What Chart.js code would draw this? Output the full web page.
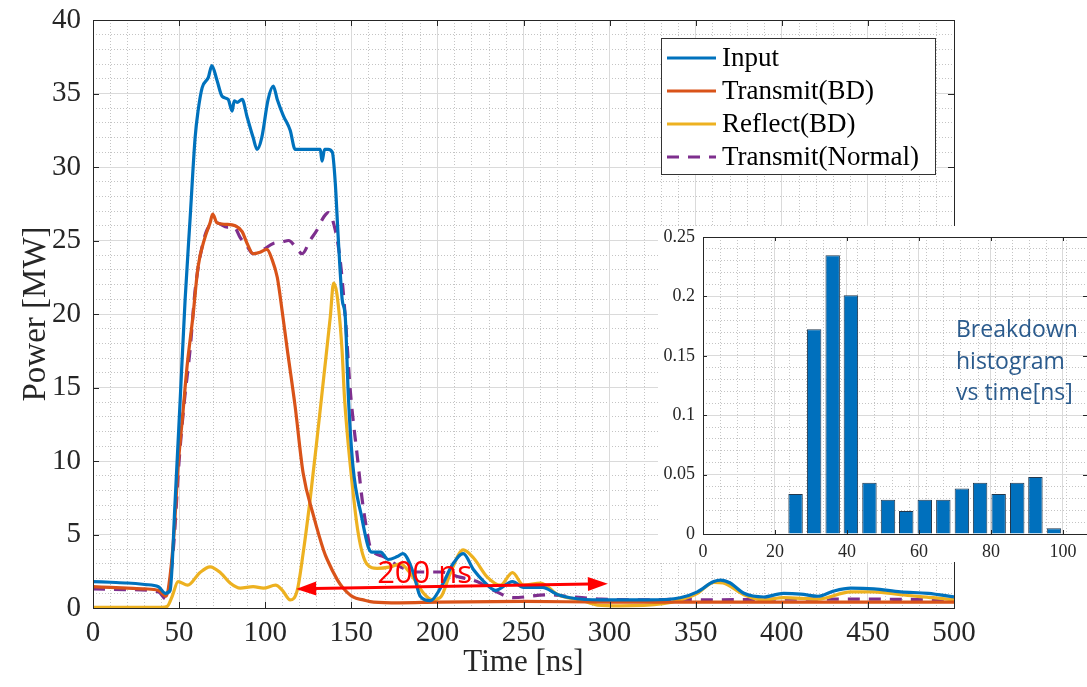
<!DOCTYPE html>
<html>
<head>
<meta charset="utf-8">
<script src="https://cdn.jsdelivr.net/npm/chart.js@4"></script>
<style>
  html, body { margin: 0; padding: 0; background: #fff; }
  #wrap { position: relative; width: 1087px; height: 687px; overflow: hidden; }
  #main { position: absolute; left: 0; top: 0; }
  #insetBox { position: absolute; left: 658px; top: 226px; width: 429px; height: 336px; background: #fff; }
</style>
</head>
<body>
<div id="wrap">
  <canvas id="main" width="1087" height="687"></canvas>
  <div id="insetBox"><canvas id="inset" width="429" height="336"></canvas></div>
</div>
<script>
// Pulse power traces [ns, MW]
const inputTime = [0, 10, 20, 30, 38, 42, 44.8, 47.7, 50.6, 53.5, 56.4, 59.3, 61, 63.4, 67, 69, 72, 75, 78.5, 80.8, 82, 83.7, 86.6, 89.5, 93, 95.3, 98, 101.7, 104.7, 107, 110.5, 114.5, 117.4, 125, 132, 133, 134.5, 136.6, 139, 140.7, 142.4, 144.7, 146.5, 148.3, 151, 156, 160, 162, 167, 171.5, 176.7, 180, 186, 190, 196, 202, 209, 215, 221, 227, 233.7, 243.6, 250, 261, 270, 277, 295, 322, 341, 351, 360.5, 364.5, 370, 378, 389.5, 401, 411, 421, 430, 440, 453.5, 469, 485, 500];
const inputPower = [1.8, 1.75, 1.7, 1.6, 1.45, 1.0, 1.2, 7.3, 14.1, 21, 26.5, 32, 33.8, 35.4, 36.1, 36.9, 35.9, 34.8, 34.6, 33.8, 34.5, 34.4, 34.6, 33.4, 32, 31.2, 32, 34.6, 35.5, 34.6, 33.5, 32.5, 31.2, 31.2, 31.2, 30.4, 31.2, 31.2, 31, 28.9, 25.2, 21, 19.8, 14.4, 9.6, 6.2, 4.1, 3.8, 3.8, 3.3, 3.5, 3.7, 2.4, 0.8, 0.5, 1.4, 3.0, 3.7, 2.6, 1.8, 1.2, 1.8, 1.4, 1.4, 0.9, 0.7, 0.55, 0.55, 0.7, 1.1, 1.8, 1.9, 1.7, 1.0, 0.75, 1.0, 0.95, 0.8, 1.15, 1.35, 1.3, 1.1, 1.0, 0.75];

const transmitTime = [0, 10, 20, 30, 38, 42.5, 44, 47, 49.4, 52, 54.6, 58, 61, 65, 68, 69.5, 72, 77, 82.6, 86.6, 89.5, 93, 97, 101, 104, 107, 108.7, 112.8, 117.4, 122, 128, 134, 136, 142, 145, 151, 157, 163, 178, 200, 250, 300, 350, 400, 450, 500];
const transmitPower = [1.45, 1.4, 1.35, 1.3, 1.2, 0.8, 1.5, 5, 9.6, 13, 16.4, 19.8, 23.2, 25.2, 26.2, 26.8, 26.2, 26.1, 26, 25.6, 24.8, 24.1, 24.2, 24.4, 23.7, 22.5, 21.2, 17.6, 13.7, 9.2, 6.3, 3.9, 3.3, 1.9, 1.4, 0.75, 0.55, 0.4, 0.35, 0.4, 0.45, 0.4, 0.4, 0.4, 0.4, 0.4];

const reflectTime = [0, 20, 40, 43, 46, 49.4, 55, 62, 68, 74, 79.6, 85.5, 93, 99, 106, 110, 114.5, 118.6, 122, 126, 130, 134, 137.8, 139.7, 141.6, 144.6, 146, 149.5, 154, 159, 165, 172.7, 178.5, 184, 192, 197, 202, 207.6, 215, 221, 229, 236.6, 243.6, 250, 260, 270, 283, 293, 306, 331, 341, 351, 360.5, 366, 378, 389.5, 401, 421, 440, 453.5, 469, 488, 500];
const reflectPower = [0.05, 0.05, 0.05, 0.1, 0.8, 1.8, 1.55, 2.4, 2.8, 2.4, 1.7, 1.35, 1.45, 1.35, 1.55, 1.2, 0.55, 1.2, 3.7, 7.3, 11.4, 15.7, 19.8, 22.1, 21.4, 17.6, 14.4, 9.6, 5.1, 3.0, 2.7, 2.8, 3.0, 2.4, 1.0, 0.55, 0.75, 2.4, 3.95, 3.4, 2.1, 1.55, 2.4, 1.55, 1.7, 0.9, 0.55, 0.2, 0.15, 0.3, 0.55, 1.0, 1.75, 1.7, 0.9, 0.55, 0.7, 0.6, 1.1, 1.1, 0.9, 0.7, 0.55];

const normalTime = [0, 20, 38, 42.5, 44, 47, 50, 53, 56.4, 59.3, 63.4, 67, 72, 78, 82, 85.5, 89.5, 93, 99, 104.7, 110, 113.6, 117.4, 121.5, 126, 130, 134, 136.6, 140.7, 143.6, 146.5, 149.4, 153.5, 156.4, 159.3, 161, 168.6, 178.5, 188, 202, 213, 223, 232.6, 244, 264, 279, 295, 322, 341, 357, 400, 450, 500];
const normalPower = [1.3, 1.25, 1.1, 0.6, 1.2, 4.5, 10, 14, 17.6, 21.6, 24.6, 25.9, 26.2, 25.9, 25.9, 25.2, 24.6, 24.1, 24.4, 24.8, 24.9, 25.0, 24.6, 24.1, 25, 25.7, 26.6, 26.9, 25.7, 23.6, 19.8, 14.8, 10.3, 7.3, 5.1, 4.15, 3.5, 2.8, 2.45, 2.45, 2.1, 1.8, 1.2, 0.7, 0.9, 0.75, 0.6, 0.55, 0.6, 0.55, 0.6, 0.6, 0.55];

const seriesNames = ['Input', 'Transmit(BD)', 'Reflect(BD)', 'Transmit(Normal)'];
const seriesColors = ['#0072BD', '#D95319', '#EDB120', '#7E2F8E'];

// arrow marking the breakdown window, in axis units
const spanStart = [118, 1.3];
const spanEnd = [299, 1.65];
const spanLabel = '200 ns';
const spanLabelAt = [165, 1.7];

// breakdown histogram: bin centres [ns] and probability
const histCenters = [24.4, 29.8, 35.2, 40.5, 45.9, 51.3, 56.6, 62.0, 67.4, 72.8, 78.1, 83.5, 88.9, 94.2, 99.6];
const histProb = [0.0336, 0.1724, 0.2346, 0.201, 0.0432, 0.0289, 0.0193, 0.0289, 0.0289, 0.0384, 0.0432, 0.0336, 0.0432, 0.0479, 0.0048];
const histNote = ['Breakdown', 'histogram', 'vs time[ns]'];

const SERIF = '"Liberation Serif", "Times New Roman", serif';
const AXIS = '#262626';
const MAJOR = '#dadada';
const MINOR = '#c4c4c4';

function pts(xs, ys) { return xs.map((x, i) => ({ x, y: ys[i] })); }

// fixed axis box size, and no extra room asked for edge labels
function fixSize(w, h) {
  return s => {
    if (w != null) s.width = w;
    if (h != null) s.height = h;
    s.paddingTop = s.paddingBottom = s.paddingLeft = s.paddingRight = 0;
  };
}

function minorAxis(pos, min, max, step) {
  return {
    type: 'linear', position: pos, min, max,
    ticks: { display: false, stepSize: step },
    grid: { color: MINOR, lineWidth: 1, drawTicks: false, z: -2 },
    border: { display: false, dash: [1, 2] },
    afterFit: pos === 'left' ? fixSize(0, null) : fixSize(null, 0)
  };
}

// MATLAB-like box, inward ticks
const boxPlugin = {
  id: 'box',
  afterDraw(chart, args, opts) {
    const { ctx, chartArea: a, scales } = chart;
    const xs = scales[opts.x], ys = scales[opts.y];
    ctx.save();
    ctx.strokeStyle = AXIS;
    ctx.lineWidth = 1;
    ctx.beginPath();
    xs.ticks.forEach(t => {
      const px = Math.round(xs.getPixelForValue(t.value)) + 0.5;
      ctx.moveTo(px, a.bottom); ctx.lineTo(px, a.bottom - opts.len);
      ctx.moveTo(px, a.top); ctx.lineTo(px, a.top + opts.len);
    });
    ys.ticks.forEach(t => {
      const py = Math.round(ys.getPixelForValue(t.value)) + 0.5;
      ctx.moveTo(a.left, py); ctx.lineTo(a.left + opts.len, py);
      ctx.moveTo(a.right, py); ctx.lineTo(a.right - opts.len, py);
    });
    ctx.stroke();
    ctx.strokeRect(Math.round(a.left) + 0.5, Math.round(a.top) + 0.5, Math.round(a.right - a.left), Math.round(a.bottom - a.top));
    ctx.restore();
  }
};

const legendPlugin = {
  id: 'boxLegend',
  afterDatasetsDraw(chart) {
    const { ctx, chartArea: a } = chart;
    const w = 274, h = 136, x0 = a.right - 293, y0 = a.top + 18;
    ctx.save();
    ctx.fillStyle = '#fff';
    ctx.fillRect(x0, y0, w, h);
    ctx.strokeStyle = '#333';
    ctx.lineWidth = 1;
    ctx.strokeRect(x0 + 0.5, y0 + 0.5, w, h);
    ctx.font = '27px ' + SERIF;
    ctx.textBaseline = 'middle';
    chart.data.datasets.forEach((ds, i) => {
      const y = y0 + 20 + i * 33;
      ctx.strokeStyle = ds.borderColor;
      ctx.lineWidth = 3;
      ctx.setLineDash(ds.borderDash || []);
      ctx.beginPath();
      ctx.moveTo(x0 + 6, y); ctx.lineTo(x0 + 55, y);
      ctx.stroke();
      ctx.setLineDash([]);
      ctx.fillStyle = '#000';
      ctx.fillText(ds.label, x0 + 61, y + 1);
    });
    ctx.restore();
  }
};

const spanPlugin = {
  id: 'span',
  afterDatasetsDraw(chart) {
    const { ctx, scales: { x, y } } = chart;
    const x1 = x.getPixelForValue(spanStart[0]), y1 = y.getPixelForValue(spanStart[1]);
    const x2 = x.getPixelForValue(spanEnd[0]), y2 = y.getPixelForValue(spanEnd[1]);
    const ang = Math.atan2(y2 - y1, x2 - x1);
    const head = (tx, ty, dir) => {
      const c = Math.cos(ang) * dir, s = Math.sin(ang) * dir;
      ctx.beginPath();
      ctx.moveTo(tx, ty);
      ctx.lineTo(tx - 20 * c + 7 * s, ty - 20 * s - 7 * c);
      ctx.lineTo(tx - 20 * c - 7 * s, ty - 20 * s + 7 * c);
      ctx.closePath();
      ctx.fill();
    };
    ctx.save();
    ctx.strokeStyle = ctx.fillStyle = '#ff0000';
    ctx.lineWidth = 3;
    ctx.beginPath();
    ctx.moveTo(x1 + 18 * Math.cos(ang), y1 + 18 * Math.sin(ang));
    ctx.lineTo(x2 - 18 * Math.cos(ang), y2 - 18 * Math.sin(ang));
    ctx.stroke();
    head(x2, y2, 1);
    head(x1, y1, -1);
    ctx.font = '31px "Open Sans", sans-serif';
    ctx.textBaseline = 'alphabetic';
    ctx.fillText(spanLabel, x.getPixelForValue(spanLabelAt[0]), y.getPixelForValue(spanLabelAt[1]));
    ctx.restore();
  }
};

const lineStyle = (i) => ({
  label: seriesNames[i], borderColor: seriesColors[i], backgroundColor: seriesColors[i],
  borderWidth: 3.2, pointRadius: 0, cubicInterpolationMode: 'monotone', fill: false
});

new Chart(document.getElementById('main'), {
  type: 'line',
  data: {
    datasets: [
      { ...lineStyle(0), data: pts(inputTime, inputPower) },
      { ...lineStyle(1), data: pts(transmitTime, transmitPower) },
      { ...lineStyle(2), data: pts(reflectTime, reflectPower) },
      { ...lineStyle(3), data: pts(normalTime, normalPower), borderDash: [12, 9] }
    ]
  },
  options: {
    responsive: false, animation: false, devicePixelRatio: 1,
    layout: { padding: { top: 20, right: 133, left: 0, bottom: 0 } },
    plugins: { legend: { display: false }, tooltip: { enabled: false }, box: { x: 'x', y: 'y', len: 6 } },
    scales: {
      xMinor: minorAxis('bottom', 0, 500, 10),
      yMinor: minorAxis('left', 0, 40, 1),
      x: {
        type: 'linear', min: 0, max: 500,
        ticks: { stepSize: 50, color: AXIS, font: { family: SERIF, size: 29 }, padding: 8, maxRotation: 0, autoSkip: false },
        grid: { color: MAJOR, lineWidth: 1, drawTicks: false, z: -1 },
        border: { display: false },
        title: { display: true, text: 'Time [ns]', color: AXIS, font: { family: SERIF, size: 31 }, padding: { top: 0, bottom: 6 } },
        afterFit: fixSize(null, 79)
      },
      y: {
        type: 'linear', min: 0, max: 40,
        ticks: { stepSize: 5, color: AXIS, font: { family: SERIF, size: 29 }, padding: 12 },
        grid: { color: MAJOR, lineWidth: 1, drawTicks: false, z: -1 },
        border: { display: false },
        title: { display: true, text: 'Power [MW]', color: AXIS, font: { family: SERIF, size: 33 }, padding: { top: 17, bottom: 0 } },
        afterFit: fixSize(93, null)
      }
    }
  },
  plugins: [boxPlugin, legendPlugin, spanPlugin]
});

const notePlugin = {
  id: 'note',
  afterDraw(chart) {
    const { ctx, chartArea: a } = chart;
    ctx.save();
    ctx.fillStyle = '#2a5a8c';
    ctx.font = '23px "Open Sans", sans-serif';
    ctx.textBaseline = 'alphabetic';
    histNote.forEach((t, i) => ctx.fillText(t, a.left + 253, a.top + 100 + i * 31.5));
    ctx.restore();
  }
};

new Chart(document.getElementById('inset'), {
  type: 'bar',
  data: {
    datasets: [{
      data: pts(histCenters, histProb),
      backgroundColor: '#0070BD', borderColor: '#23384d', borderWidth: 1,
      barPercentage: 0.84, categoryPercentage: 1
    }]
  },
  options: {
    responsive: false, animation: false, devicePixelRatio: 1,
    layout: { padding: { top: 11, right: 0, left: 0, bottom: 0 } },
    plugins: { legend: { display: false }, tooltip: { enabled: false }, box: { x: 'x', y: 'y', len: 4 } },
    scales: {
      xMinor: minorAxis('bottom', 0, 106.67, 5),
      yMinor: minorAxis('left', 0, 0.25, 0.01),
      x: {
        type: 'linear', min: 0, max: 106.67, offset: false,
        ticks: { stepSize: 20, includeBounds: false, color: AXIS, font: { family: SERIF, size: 18 }, padding: 7, maxRotation: 0, autoSkip: false },
        grid: { color: MAJOR, lineWidth: 1, drawTicks: false, z: -1, offset: false },
        border: { display: false },
        afterFit: fixSize(null, 28)
      },
      y: {
        type: 'linear', min: 0, max: 0.25,
        ticks: { stepSize: 0.05, color: AXIS, font: { family: SERIF, size: 18 }, padding: 8,
          callback: v => String(+v.toFixed(2)) },
        grid: { color: MAJOR, lineWidth: 1, drawTicks: false, z: -1 },
        border: { display: false },
        afterFit: fixSize(45, null)
      }
    }
  },
  plugins: [boxPlugin, notePlugin]
});
</script>
</body>
</html>
